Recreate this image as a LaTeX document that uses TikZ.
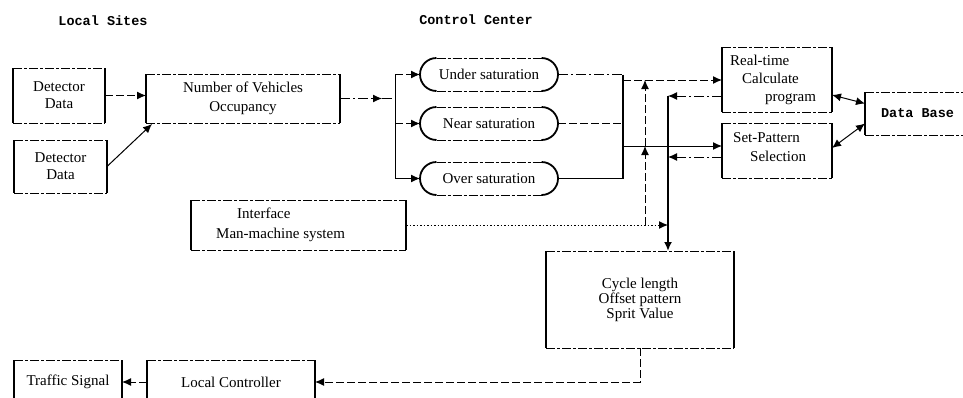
\documentclass[tikz,border=0pt]{standalone}
\usepackage{fontspec}
\setmainfont{Liberation Serif}
\newfontfamily\titlefont{Liberation Mono}
\usetikzlibrary{arrows.meta,calc}
\newcommand\edgebox[1]{%
  \draw[boxh] (#1.north west) -- (#1.north east);
  \draw[boxh] (#1.south west) -- (#1.south east);
  \draw[boxv] (#1.north west) -- (#1.south west);
  \draw[boxv] (#1.north east) -- (#1.south east);}
\newcommand\pillshape[1]{%
  \draw[boxh] ([xshift=16.5pt]#1.north west) -- ([xshift=-16.5pt]#1.north east);
  \draw[boxh] ([xshift=16.5pt]#1.south west) -- ([xshift=-16.5pt]#1.south east);
  \draw[boxv] ([xshift=16.5pt]#1.north west) arc[start angle=90,end angle=270,radius=16.5pt];
  \draw[boxv] ([xshift=-16.5pt]#1.south east) arc[start angle=-90,end angle=90,radius=16.5pt];}
\begin{document}
\begin{tikzpicture}[x=1pt,y=-1pt,
  boxn/.style={inner sep=0pt,outer sep=0pt,align=center},
  fs/.style={font=\fontsize{15}{#1}\selectfont},
  fs/.default=17,
  ttl/.style={font=\titlefont\bfseries\fontsize{13.5}{15}\selectfont},
  boxh/.style={line width=1pt,dash pattern=on 9pt off 2pt on 3pt off 2pt},
  boxv/.style={line width=1.8pt},
  conn/.style={line width=1pt},
  ddash/.style={conn,dash pattern=on 10pt off 3pt on 2pt off 3pt},
  ldash/.style={conn,dash pattern=on 8pt off 3pt},
  dotl/.style={conn,dash pattern=on 1.5pt off 2pt},
  tip/.style={-{Latex[length=9pt,width=8pt]}},
  btip/.style={{Latex[length=9pt,width=8pt]}-{Latex[length=9pt,width=8pt]}},
]
\clip (0,0) rectangle (963,397);

% titles
\node[ttl] (tls) at (103,21) {Local Sites};
\node[ttl] (tcc) at (476,20) {Control Center};

% boxes
\node[boxn,fs=17,minimum width=92pt,minimum height=55pt] (det1) at (59,95.5) {Detector\\Data};
\node[boxn,fs=17,minimum width=93pt,minimum height=53pt] (det2) at (60.5,166.5) {Detector\\Data};
\node[boxn,fs=19,minimum width=194pt,minimum height=49pt] (nv) at (243,98.5) {Number of Vehicles\\Occupancy};
\node[boxn,fs,minimum width=138pt,minimum height=33pt] (us) at (489,74.5) {Under saturation};
\node[boxn,fs,minimum width=138pt,minimum height=33pt] (ns) at (489,123.5) {Near saturation};
\node[boxn,fs,minimum width=138pt,minimum height=33pt] (os) at (489,178.5) {Over saturation};
\node[boxn,minimum width=110pt,minimum height=65pt] (rt) at (777,79.5) {};
\node[fs=18,align=left,anchor=west,inner sep=0pt] (rtt) at (730,80) {Real-time\\\hspace*{12pt}Calculate\\\hspace*{35pt}program};
\node[boxn,minimum width=110pt,minimum height=55pt] (sp) at (777,150.5) {};
\node[fs=19,align=left,anchor=west,inner sep=0pt] (spt) at (733,147.5) {Set-Pattern\\\hspace*{17pt}Selection};
\node[boxn,ttl,minimum width=105pt,minimum height=43pt] (db) at (917.5,113.5) {Data Base};
\node[boxn,minimum width=215pt,minimum height=50pt] (if) at (298.5,225) {};
\node[fs=20,align=left,anchor=west,inner sep=0pt] (ift) at (216,225) {\hspace*{21pt}Interface\\Man-machine system};
\node[boxn,fs=15,minimum width=188pt,minimum height=97pt] (cy) at (640,299.5) {Cycle length\\Offset pattern\\Sprit Value};
\node[boxn,fs,minimum width=168pt,minimum height=44pt] (lc) at (231,382) {Local Controller};
\node[boxn,fs,minimum width=108pt,minimum height=44pt] (ts) at (68,382) {Traffic Signal};

\edgebox{det1}
\edgebox{det2}
\edgebox{nv}
\edgebox{rt}
\edgebox{sp}
\edgebox{db}
\edgebox{if}
\edgebox{cy}
\edgebox{lc}
\edgebox{ts}
\pillshape{us}
\pillshape{ns}
\pillshape{os}

% helper coordinates
\coordinate (j1) at (395,98.5);
\coordinate (j1a) at (382,98.5);
\coordinate (b2) at (623,123.5);
\coordinate (tx) at (668,96);
\coordinate (vx) at (645,225);
\coordinate (rtin) at ($(rt.west)+(0,0.5)$);
\coordinate (spin) at ($(sp.west)+(0,-4.5)$);
\coordinate (rtout) at ($(rt.west)+(0,16.5)$);
\coordinate (spout) at ($(sp.west)+(0,6.5)$);

% connectors
\draw[ldash,tip] (det1.east) -- (det1.east -| nv.west);
\draw[conn,tip] (det2.east) -- ([xshift=6pt,yshift=-1pt]nv.south west);
\draw[ddash,tip] (nv.east) -- (j1a);
\draw[ddash] (j1a) -- (j1);
\draw[conn] (us.west -| j1) -- (os.west -| j1);
\draw[ldash,tip] (us.west -| j1) -- (us.west);
\draw[ldash,tip] (ns.west -| j1) -- (ns.west);
\draw[conn,tip] (os.west -| j1) -- (os.west);

\draw[ddash] (us.east) -- (us.east -| b2);
\draw[ldash] (ns.east) -- (ns.east -| b2);
\draw[conn] (os.east) -- (os.east -| b2);
\draw[boxv] (us.east -| b2) -- (os.east -| b2);
\draw[ldash,tip] (rtin -| b2) -- (rtin);
\draw[conn,tip] (spin -| b2) -- (spin);

\draw[ddash,tip] (rtout) -- (rtout -| tx);
\draw[ddash,tip] (spout) -- (spout -| tx);
\draw[line width=2.2pt,tip] (tx) -- (tx |- cy.north);

\draw[dotl,tip] (if.east) -- (if.east -| tx);
\draw[ldash,tip] (if.east -| vx) -- (spin -| vx);
\draw[ldash,tip] (spin -| vx) -- (rtin -| vx);

\draw[ldash,tip] (cy.south) |- (lc.east);
\draw[ldash,tip] (lc.west) -- (ts.east);

\draw[conn,btip] ($(rt.east)+(0,15.5)$) -- ($(db.west)+(0,-10)$);
\draw[conn,btip] ($(sp.east)+(0,-2.5)$) -- ($(db.west)+(0,10)$);
\end{tikzpicture}
\end{document}
